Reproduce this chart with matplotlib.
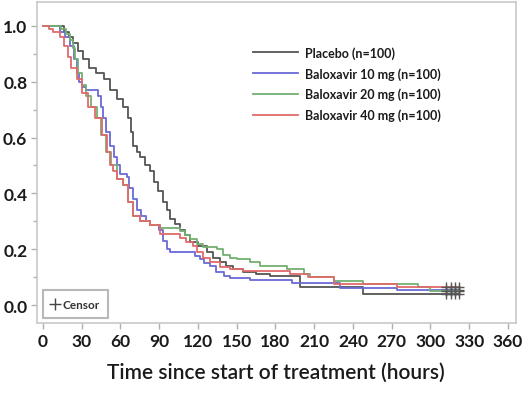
import matplotlib
matplotlib.use("Agg")
import matplotlib.pyplot as plt
from matplotlib.lines import Line2D

plt.rcParams['font.family'] = ['Lato', 'DejaVu Sans']

# ---------------- data ----------------
placebo_t = [0, 16, 20, 23.5, 27, 31, 36, 41, 47, 52, 57, 62, 66, 68, 70, 73, 75, 79, 83, 86,
             89, 93, 96, 98, 102, 106, 110, 114, 120, 127, 132, 137, 142, 147, 155, 165, 176,
             199, 248, 322]
placebo_s = [1.0, 0.98, 0.96, 0.94, 0.91, 0.88, 0.85, 0.83, 0.81, 0.77, 0.74, 0.71, 0.67, 0.62,
             0.57, 0.55, 0.53, 0.50, 0.48, 0.44, 0.41, 0.37, 0.34, 0.31, 0.29, 0.27, 0.25, 0.225,
             0.21, 0.19, 0.17, 0.155, 0.14, 0.13, 0.12, 0.11, 0.105, 0.065, 0.04, 0.04]

bal10_t = [0, 13, 17, 21, 24, 26, 28, 30, 33, 43, 45, 46.5, 49, 52, 55, 57, 60, 65, 67, 70,
           72.6, 76, 80, 83, 90, 93, 96, 98, 118, 121.7, 125, 129.5, 134, 139.8, 145, 160,
           193, 230, 274, 322]
bal10_s = [1.0, 0.98, 0.96, 0.93, 0.88, 0.83, 0.80, 0.78, 0.77, 0.75, 0.71, 0.67, 0.62, 0.57,
           0.53, 0.50, 0.47, 0.46, 0.42, 0.38, 0.34, 0.32, 0.30, 0.285, 0.27, 0.23, 0.20, 0.19,
           0.175, 0.165, 0.15, 0.14, 0.12, 0.105, 0.095, 0.09, 0.08, 0.06, 0.055, 0.055]

bal20_t = [0, 14, 18, 21, 23.5, 25, 27.4, 30, 33, 37, 41.6, 45, 49, 53, 57, 62, 66, 70, 75, 83,
           90.7, 106, 110, 114, 119, 124, 134.6, 139.5, 145, 150, 160.5, 168, 189, 202, 207,
           225, 248, 290, 300, 322]
bal20_s = [1.0, 0.99, 0.97, 0.95, 0.92, 0.88, 0.83, 0.79, 0.75, 0.71, 0.67, 0.61, 0.55, 0.50,
           0.45, 0.43, 0.37, 0.32, 0.30, 0.285, 0.275, 0.266, 0.25, 0.237, 0.22, 0.207, 0.20,
           0.18, 0.17, 0.165, 0.153, 0.14, 0.129, 0.111, 0.099, 0.087, 0.075, 0.063, 0.05, 0.05]

bal40_t = [0, 5, 8, 13, 16, 19.6, 22, 26, 30, 35, 40, 45.5, 49.4, 52, 54.5, 57, 62, 66, 70, 75,
           83, 90.7, 106, 111, 116, 119, 124, 129.5, 137, 145, 155, 191, 205, 225, 274, 322]
bal40_s = [1.0, 0.99, 0.98, 0.96, 0.93, 0.89, 0.85, 0.81, 0.76, 0.71, 0.67, 0.61, 0.55, 0.50,
           0.48, 0.45, 0.43, 0.37, 0.32, 0.30, 0.285, 0.255, 0.24, 0.225, 0.21, 0.19, 0.17,
           0.155, 0.135, 0.128, 0.123, 0.11, 0.10, 0.075, 0.063, 0.063]

censor_t = [312, 316, 319, 322]

labels = ["Placebo (n=100)", "Baloxavir 10 mg (n=100)",
          "Baloxavir 20 mg (n=100)", "Baloxavir 40 mg (n=100)"]
colors = ["#555555", "#6a6ad8", "#72b072", "#e06a6a"]

x_ticks = [0, 30, 60, 90, 120, 150, 180, 210, 240, 270, 300, 330, 360]
y_ticks = [0.0, 0.2, 0.4, 0.6, 0.8, 1.0]
x_label = "Time since start of treatment (hours)"

# ---------------- figure ----------------
fig = plt.figure(figsize=(5.23, 4.06), dpi=100)
ax = fig.add_axes([37/523, 1-324/406, 479/523, 321/406])

series = [(placebo_t, placebo_s), (bal10_t, bal10_s), (bal20_t, bal20_s), (bal40_t, bal40_s)]
handles = []
for (t, s), c, lab in zip(series, colors, labels):
    h, = ax.step(t, s, where='post', color=c, lw=1.3, label=lab)
    handles.append(h)
    cs = [s[-1]] * len(censor_t)
    ax.plot(censor_t, cs, ls='none', marker='+', ms=7, mew=1.0, color='#555555')

ax.set_xlim(-4.6, 366.2)
ax.set_ylim(-0.0645, 1.086)
ax.set_xticks(x_ticks)
ax.set_yticks(y_ticks)
ax.set_yticks([0.1, 0.3, 0.5, 0.7, 0.9], minor=True)
ax.set_xticklabels([str(v) for v in x_ticks], fontsize=12.5, fontweight='bold', color='#1a1a1a')
ax.set_yticklabels([f"{v:.1f}" for v in y_ticks], fontsize=12.5, fontweight='bold', color='#1a1a1a')
ax.tick_params(axis='both', which='both', color='#b0b0b0', length=4, width=1)
ax.tick_params(axis='x', pad=3)
ax.tick_params(axis='y', pad=3)
ax.tick_params(axis='y', which='minor', length=3)
for sp in ax.spines.values():
    sp.set_color('#c8c8c8')
    sp.set_linewidth(1.2)

ax.set_xlabel(x_label, fontsize=15, fontweight='semibold', color='#1a1a1a')
ax.xaxis.set_label_coords(0.499, -0.153)
ax.xaxis.label.set_va('center')

leg = ax.legend(handles=handles, loc='upper left', bbox_to_anchor=(0.451, 0.862),
                frameon=False, prop={'weight': 'bold', 'size': 9},
                handlelength=3.6, handletextpad=0.55, labelspacing=0.64,
                borderpad=0, borderaxespad=0)
for t in leg.get_texts():
    t.set_color('#1a1a1a')
ax.add_artist(leg)

cens = Line2D([], [], ls='none', marker='+', ms=9, mew=1.0, color='#444444')
leg2 = ax.legend(handles=[cens], labels=['Censor'], loc='lower left',
                 bbox_to_anchor=(6/479, 5/321), borderaxespad=0,
                 prop={'weight': 'bold', 'size': 8.5}, handlelength=0.7, handletextpad=0.25,
                 borderpad=0.7, fancybox=False, framealpha=1)
leg2.get_frame().set_edgecolor('#b8b8b8')
leg2.get_frame().set_linewidth(1.5)
for t in leg2.get_texts():
    t.set_color('#333333')

fig.savefig("out.png", dpi=100)
